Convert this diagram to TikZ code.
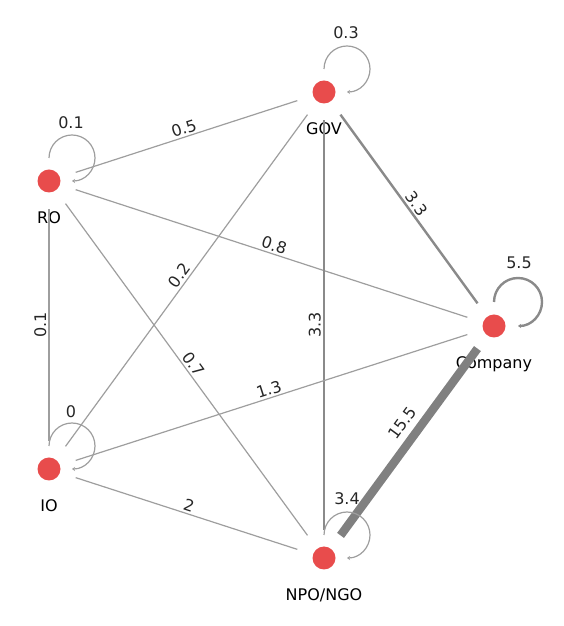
\documentclass[tikz,border=0pt]{standalone}
\usepackage{fontspec}
\setmainfont{DejaVu Sans}
\usetikzlibrary{arrows.meta}
\definecolor{nodered}{RGB}{232,76,76}
\definecolor{linkgray}{RGB}{158,158,158}
\definecolor{midgray}{RGB}{138,138,138}
\definecolor{biggray}{RGB}{128,128,128}

\begin{document}
\begin{tikzpicture}[
  x=1pt, y=1pt,
  font=\fontsize{16}{19}\selectfont,
  actor/.style={circle, fill=nodered, minimum size=23pt, inner sep=0pt, outer sep=16.5pt, label={[label distance=-1pt]below:#1}},
  link/.style={draw=linkgray, line width=1.2pt},
  strong/.style={draw=midgray, line width=2.4pt},
  heavy/.style={draw=biggray, line width=8.5pt},
  self/.style={link, -{Stealth[length=3pt,width=4pt]}},
  selfstrong/.style={strong, -{Stealth[length=3pt,width=4pt]}},
  wt/.style={midway, sloped, above, text=black!85, inner sep=2pt}
]
\useasboundingbox (0,0) rectangle (564,626);
\node[actor=GOV] (gov) at (324,534) {};
\node[actor=RO] (ro) at (49,445) {};
\node[actor=Company] (comp) at (494,300) {};
\node[actor=IO] (io) at (49,157) {};
\node[actor=NPO/NGO] (npo) at (324,68) {};
\draw[link] (ro) -- node[wt]{0.5} (gov);
\draw[link] (ro) -- node[wt]{0.8} (comp);
\draw[strong] (gov) -- node[wt]{3.3} (comp);
\draw[link] (io) -- node[wt]{0.2} (gov);
\draw[link] (ro) -- node[wt]{0.7} (npo);
\draw[strong] (npo) -- node[wt]{3.3} (gov);
\draw[link] (io) -- node[wt]{0.1} (ro);
\draw[link] (io) -- node[wt]{1.3} (comp);
\draw[link] (io) -- node[wt]{2} (npo);
\draw[heavy] (npo) -- node[wt, pos=0.55, inner sep=6pt]{15.5} (comp);
\draw[self] ([yshift=23pt]gov.center) arc[start angle=180, end angle=-90, radius=23pt];
\draw[self] ([yshift=23pt]ro.center) arc[start angle=180, end angle=-90, radius=23pt];
\draw[self] ([yshift=23pt]io.center) arc[start angle=180, end angle=-90, radius=23pt];
\draw[self] ([yshift=23pt]npo.center) arc[start angle=180, end angle=-90, radius=23pt];
\draw[selfstrong] ([yshift=24pt]comp.center) arc[start angle=180, end angle=-90, radius=24pt];
\node[text=black!85] (wgov) at ([shift={(22pt,59pt)}]gov.center) {0.3};
\node[text=black!85] (wro) at ([shift={(22pt,58pt)}]ro.center) {0.1};
\node[text=black!85] (wio) at ([shift={(22pt,57pt)}]io.center) {0};
\node[text=black!85] (wnpo) at ([shift={(23pt,59pt)}]npo.center) {3.4};
\node[text=black!85] (wcomp) at ([shift={(25pt,63pt)}]comp.center) {5.5};
\end{tikzpicture}
\end{document}
